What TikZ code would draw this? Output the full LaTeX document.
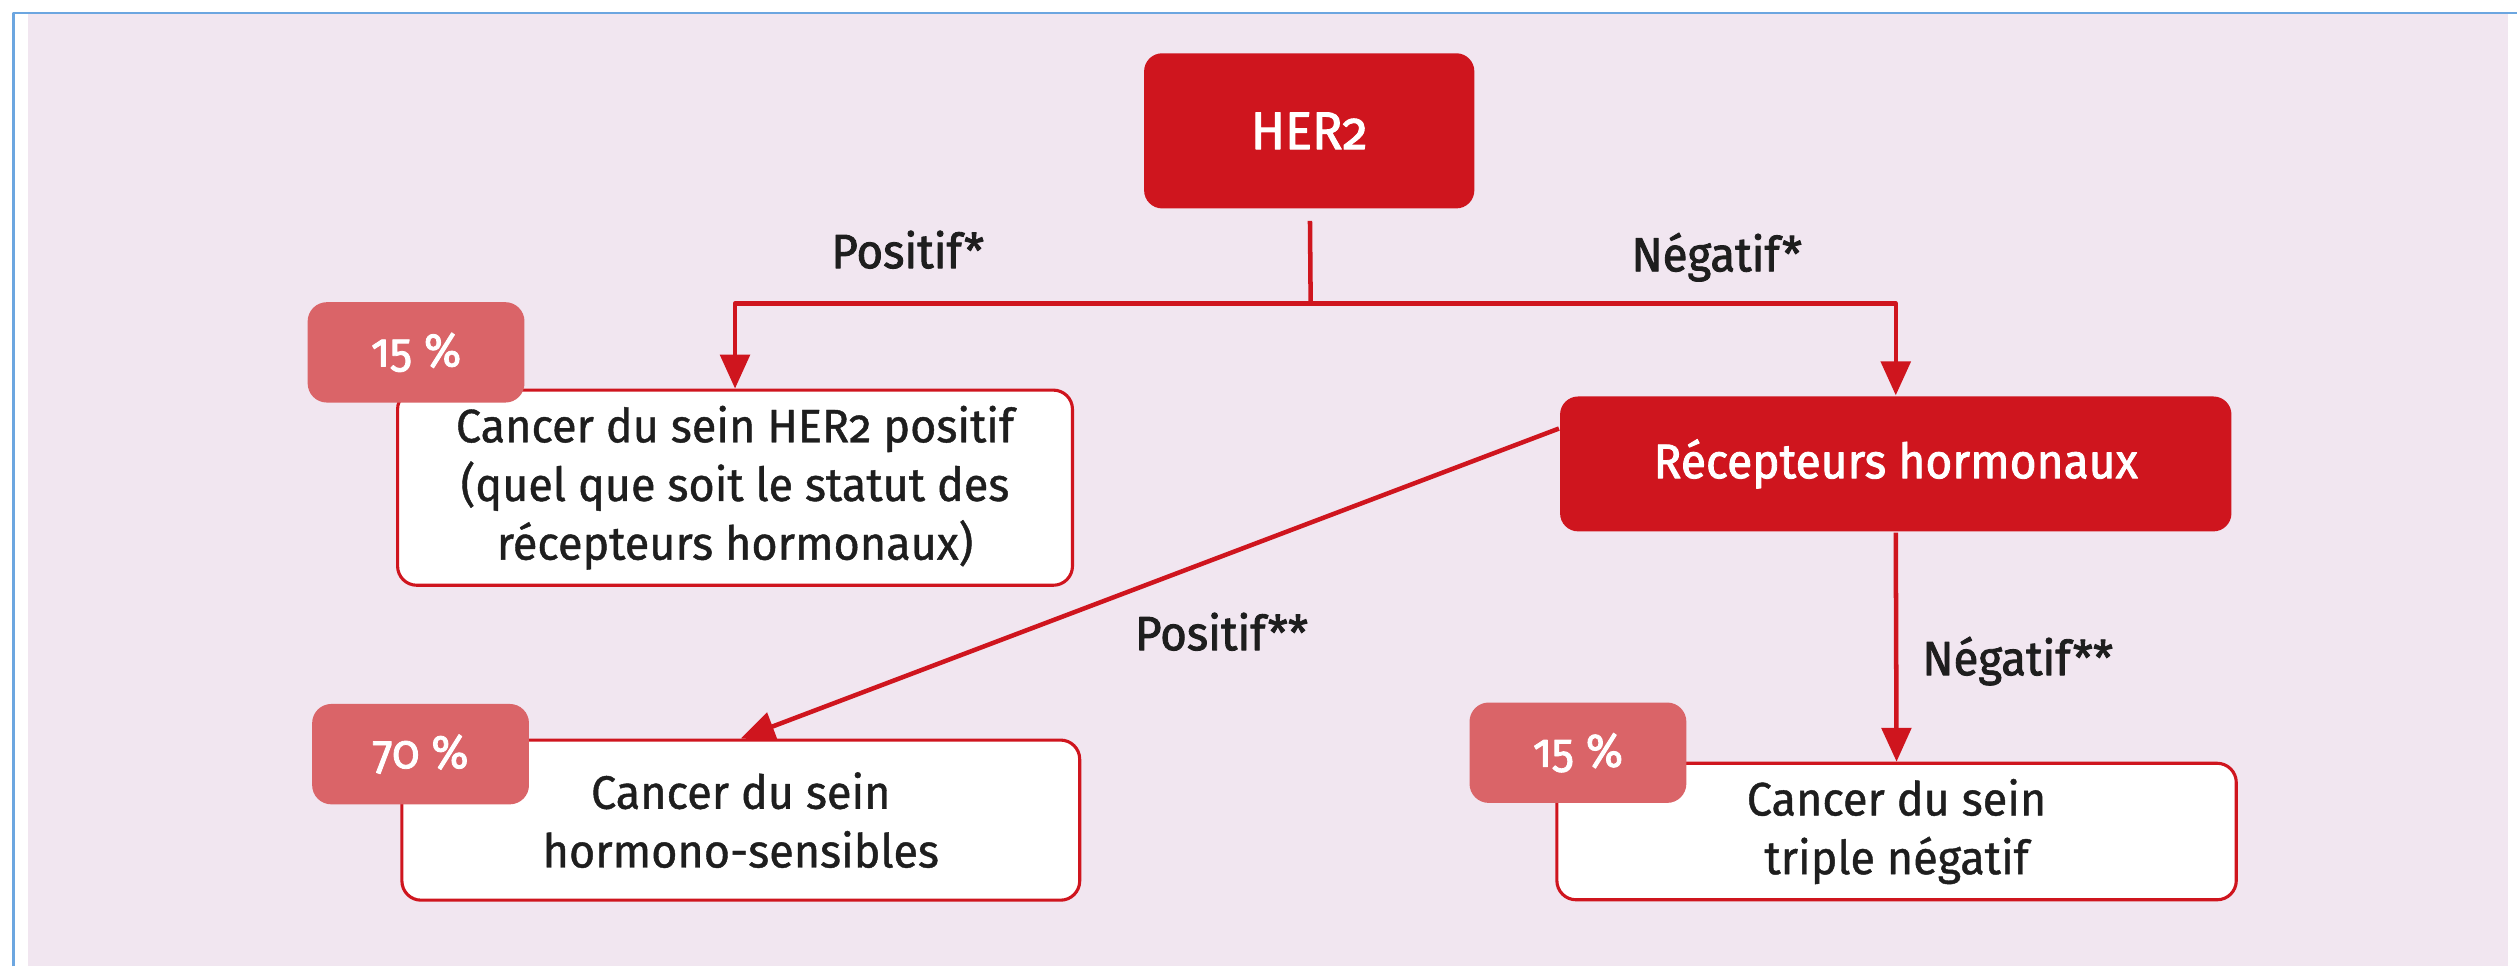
\documentclass[tikz,border=0pt]{standalone}
\usepackage{fontspec}
\setmainfont{Fira Sans}[Numbers=OldStyle,FakeBold=0.9,FakeStretch=0.96]
\newfontfamily\medfont{Fira Sans}[Numbers=OldStyle,FakeBold=1.8,FakeStretch=0.95]
\usetikzlibrary{arrows.meta}
\definecolor{herred}{HTML}{CF151E}
\definecolor{badgered}{HTML}{DA6468}
\definecolor{bgpink}{HTML}{F1E6F0}
\definecolor{frameblue}{HTML}{6CA6E0}
\definecolor{ink}{HTML}{1E1E1E}
\begin{document}
\begin{tikzpicture}[x=0.01cm, y=-0.01cm, line join=round,
  redbox/.style={fill=herred, rounded corners=3.2pt, text=white, inner sep=0pt,
    font=\medfont\fontsize{8.6}{10}\selectfont},
  outbox/.style={fill=white, draw=herred, line width=0.55pt, rounded corners=3.4pt,
    text=ink, align=center, inner sep=0pt, font=\fontsize{8.3}{10.4}\selectfont},
  badge/.style={fill=badgered, rounded corners=3.4pt, text=white, inner sep=0pt,
    minimum width=1.35cm, minimum height=0.625cm, font=\medfont\fontsize{8.4}{10}\selectfont},
  link/.style={draw=herred, line width=0.8pt},
  arr/.style={link, -{Triangle[width=5.2pt,length=6pt]}},
  lbl/.style={text=ink, anchor=base, font=\medfont\fontsize{8.5}{10}\selectfont}]
  \useasboundingbox (0,0) rectangle (1568,602);
  % page and frame
  \fill[white] (0,0) rectangle (1568,602);
  \fill[bgpink] (17.5,8.7) rectangle (1562.6,602);
  \draw[frameblue, line width=0.4pt] (8.4,602) -- (8.4,7.9) -- (1568,7.9);
  % nodes
  \coordinate (split) at (816.5,189);
  \node[redbox, minimum width=2.056cm, minimum height=0.966cm,
    font=\medfont\fontsize{9.4}{11}\selectfont] (her2) at (815.6,81.5) {HER2};
  \node[outbox, minimum width=4.202cm, minimum height=1.215cm] (box1) at (457.9,303.8)
    {Cancer du sein HER2 positif\\(quel que soit le statut des\\récepteurs hormonaux)};
  \node[redbox, minimum width=4.18cm, minimum height=0.84cm] (recep) at (1181,289)
    {Récepteurs hormonaux};
  \node[outbox, minimum width=4.22cm, minimum height=0.997cm] (box2) at (461.5,510.9)
    {Cancer du sein\\hormono-sensibles};
  \node[outbox, minimum width=4.23cm, minimum height=0.85cm] (box3) at (1181.5,518)
    {Cancer du sein\\triple négatif};
  % connectors
  \draw[link, shorten <=2pt] (her2) -- (split);
  \draw[arr] (split) -| (box1.north);
  \draw[arr] (split) -| (recep.north);
  \draw[arr] (recep.174) -- (box2.north);
  \draw[arr] (recep.south) -- (box3.north);
  % percentages
  \node[badge] (pct1) at (259.2,219.5) {15~\%};
  \node[badge] (pct2) at (262,469.8) {70~\%};
  \node[badge] (pct3) at (983,468.9) {15~\%};
  % branch labels
  \node[lbl] (posA) at (565.5,167) {Positif*};
  \node[lbl] (negA) at (1069.5,169) {Négatif*};
  \node[lbl] (posB) at (761,405) {Positif**};
  \node[lbl] (negB) at (1257,420.6) {Négatif**};
\end{tikzpicture}
\end{document}
